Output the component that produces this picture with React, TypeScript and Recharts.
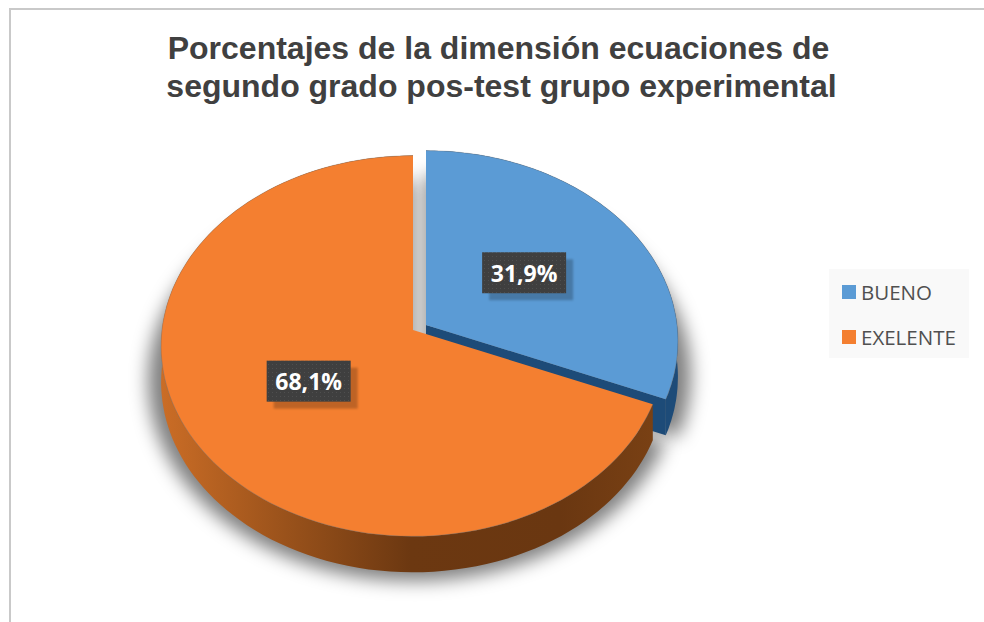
import React from "react";
import { PieChart, Pie, Cell, Legend } from "recharts";

const categories = ["BUENO", "EXELENTE"];
const percentages = [31.9, 68.1];
const titleLines = [
  "Porcentajes de la dimensión ecuaciones de",
  "segundo grado pos-test grupo experimental",
];

const faceColors = ["#5b9bd5", "#f47f30"];
const wallFills = ["#1d4b78", "url(#orangeWall)"];

const tableData = categories.map((name, i) => ({ name, value: percentages[i] }));

// the pie is tilted, so every angle goes through this perspective projection
const TILT = 0.753;
const PERSPECTIVE = 0.084;
const ANGLE_WARP = 3.3;
const DEPTH = 36;
const EXPLODE = [
  [13, -5],
  [0, 0],
];
const LABEL_NUDGE = [
  [1, -5.5],
  [2, 0],
];

function project(cx: number, cy: number, r: number, deg: number, warp = ANGLE_WARP): [number, number] {
  const clockwise = 90 - deg;
  const t = ((clockwise + warp * Math.sin((2 * clockwise * Math.PI) / 180)) * Math.PI) / 180;
  const X = Math.sin(t);
  const Y = -Math.cos(t);
  const w = 1 - PERSPECTIVE * Y;
  return [cx + (r * X) / w, cy + (r * TILT * Y) / w];
}

function arcPoints(cx: number, cy: number, r: number, start: number, end: number) {
  const pts: [number, number][] = [];
  const steps = 120;
  for (let i = 0; i <= steps; i++) {
    pts.push(project(cx, cy, r, start + ((end - start) * i) / steps));
  }
  return pts;
}

const toPath = (pts: [number, number][]) =>
  "M" + pts.map((p) => p[0].toFixed(1) + "," + p[1].toFixed(1)).join("L") + "Z";

function ShadowSlice(props: any) {
  const { cx, cy, outerRadius, startAngle, endAngle, index } = props;
  const [dx, dy] = EXPLODE[index];
  const sy = cy + dy + DEPTH - 2;
  const arc = arcPoints(cx + dx, sy, outerRadius + 13, startAngle, endAngle);
  const d = toPath([[cx + dx, sy], ...arc]);
  return <path d={d} fill="#000" fillOpacity={0.5} filter="url(#pieShadow)" />;
}

function Slice(props: any) {
  const { cx, cy, outerRadius, startAngle, endAngle, index } = props;
  const [dx, dy] = EXPLODE[index];
  const px = cx + dx;
  const py = cy + dy;
  const arc = arcPoints(px, py, outerRadius, startAngle, endAngle);
  const low = arc.map((p) => [p[0], p[1] + DEPTH] as [number, number]);
  const tip: [number, number] = [px, py];
  const end = arc[arc.length - 1];
  return (
    <g>
      <path d={toPath([...arc, ...low.slice().reverse()])} fill={wallFills[index]} />
      {index === 0 && (
        <path
          d={toPath([tip, end, [end[0], end[1] + DEPTH], [tip[0], tip[1] + DEPTH]])}
          fill={wallFills[index]}
        />
      )}
      <path d={toPath([tip, ...arc])} fill={faceColors[index]} />
      <path
        d={"M" + arc.map((p) => p[0].toFixed(1) + "," + p[1].toFixed(1)).join("L")}
        fill="none"
        stroke="#6b6b6b"
        strokeOpacity={0.3}
      />
    </g>
  );
}

function PercentLabel(props: any) {
  const { cx, cy, outerRadius, midAngle, index, value } = props;
  const [dx, dy] = EXPLODE[index];
  const [nx, ny] = LABEL_NUDGE[index];
  const [mx, my] = project(cx + dx, cy + dy, outerRadius * 0.48, midAngle, 0);
  const x = mx + nx;
  const y = my + ny;
  const w = 84;
  const h = 41;
  return (
    <g>
      <rect
        x={x - w / 2 + 7}
        y={y - h / 2 + 7}
        width={w}
        height={h}
        fill="#000"
        fillOpacity={0.22}
        filter="url(#labelShadow)"
      />
      <rect x={x - w / 2} y={y - h / 2} width={w} height={h} fill="url(#labelDots)" />
      <text
        x={x}
        y={y + 9}
        textAnchor="middle"
        fontFamily="'Open Sans', sans-serif"
        fontWeight={700}
        fontSize={23}
        fill="#fff"
      >
        {value.toFixed(1).replace(".", ",") + "%"}
      </text>
    </g>
  );
}

function LegendBox(props: any) {
  const seen = new Set<string>();
  const items = (props.payload || []).filter((item: any) => {
    if (seen.has(item.value)) return false;
    seen.add(item.value);
    return true;
  });
  return (
    <div style={{ width: 140, height: 89, background: "#f9f9f9", position: "relative" }}>
      {items.map((item: any, i: number) => (
        <div
          key={item.value}
          style={{
            position: "absolute",
            left: 13,
            top: 16 + i * 45,
            display: "flex",
            alignItems: "center",
            height: 14,
            whiteSpace: "nowrap",
          }}
        >
          <span style={{ width: 14, height: 14, background: faceColors[i], marginRight: 5 }} />
          <span style={{ fontFamily: "'Open Sans', sans-serif", fontSize: 20.5, color: "#505050" }}>
            {item.value}
          </span>
        </div>
      ))}
    </div>
  );
}

export default function App() {
  return (
    <div style={{ position: "absolute", left: 0, top: 0, width: 984, height: 622, background: "#fff", overflow: "hidden" }}>
      <div
        style={{
          position: "absolute",
          left: 9,
          top: 8,
          width: 975,
          height: 614,
          borderTop: "2px solid #c9c9c9",
          borderLeft: "2px solid #c9c9c9",
        }}
      />
      <PieChart width={984} height={622} margin={{ top: 0, right: 0, bottom: 0, left: 0 }} style={{ position: "absolute" }}>
        <defs>
          <filter id="pieShadow" filterUnits="userSpaceOnUse" x="80" y="100" width="680" height="522">
            <feGaussianBlur stdDeviation="9" />
          </filter>
          <filter id="labelShadow" x="-10%" y="-10%" width="120%" height="120%">
            <feGaussianBlur stdDeviation="1.2" />
          </filter>
          <pattern id="labelDots" width="4" height="4" patternUnits="userSpaceOnUse">
            <rect width="4" height="4" fill="#3f3f3f" />
            <rect width="1" height="1" fill="#4f4f4f" />
          </pattern>
          <linearGradient id="orangeWall" gradientUnits="userSpaceOnUse" x1="160" y1="0" x2="660" y2="0">
            <stop offset="0%" stopColor="#cb6d26" />
            <stop offset="25%" stopColor="#9a521b" />
            <stop offset="50%" stopColor="#6c3811" />
            <stop offset="80%" stopColor="#6a3711" />
            <stop offset="100%" stopColor="#7a4114" />
          </linearGradient>
        </defs>
        <text textAnchor="middle" fontFamily="'Liberation Sans', Arial, sans-serif" fontWeight={700} fontSize={32} fill="#404040">
          <tspan x={498.5} y={59}>{titleLines[0]}</tspan>
          <tspan x={501.5} y={97}>{titleLines[1]}</tspan>
        </text>
        <Pie
          data={tableData}
          dataKey="value"
          nameKey="name"
          cx={413}
          cy={330}
          outerRadius={251}
          startAngle={90}
          endAngle={-270}
          stroke="none"
          legendType="none"
          isAnimationActive={false}
          shape={(p: any) => <ShadowSlice {...p} />}
        />
        <Pie
          data={tableData}
          dataKey="value"
          nameKey="name"
          cx={413}
          cy={330}
          outerRadius={251}
          startAngle={90}
          endAngle={-270}
          stroke="none"
          isAnimationActive={false}
          labelLine={false}
          label={(p: any) => <PercentLabel {...p} />}
          shape={(p: any) => <Slice {...p} />}
        >
          {tableData.map((d, i) => (
            <Cell key={d.name} fill={faceColors[i]} />
          ))}
        </Pie>
        <Legend
          layout="vertical"
          content={(p: any) => <LegendBox {...p} />}
          wrapperStyle={{ position: "absolute", left: 829, top: 269, width: 140, height: 89 }}
        />
      </PieChart>
    </div>
  );
}
